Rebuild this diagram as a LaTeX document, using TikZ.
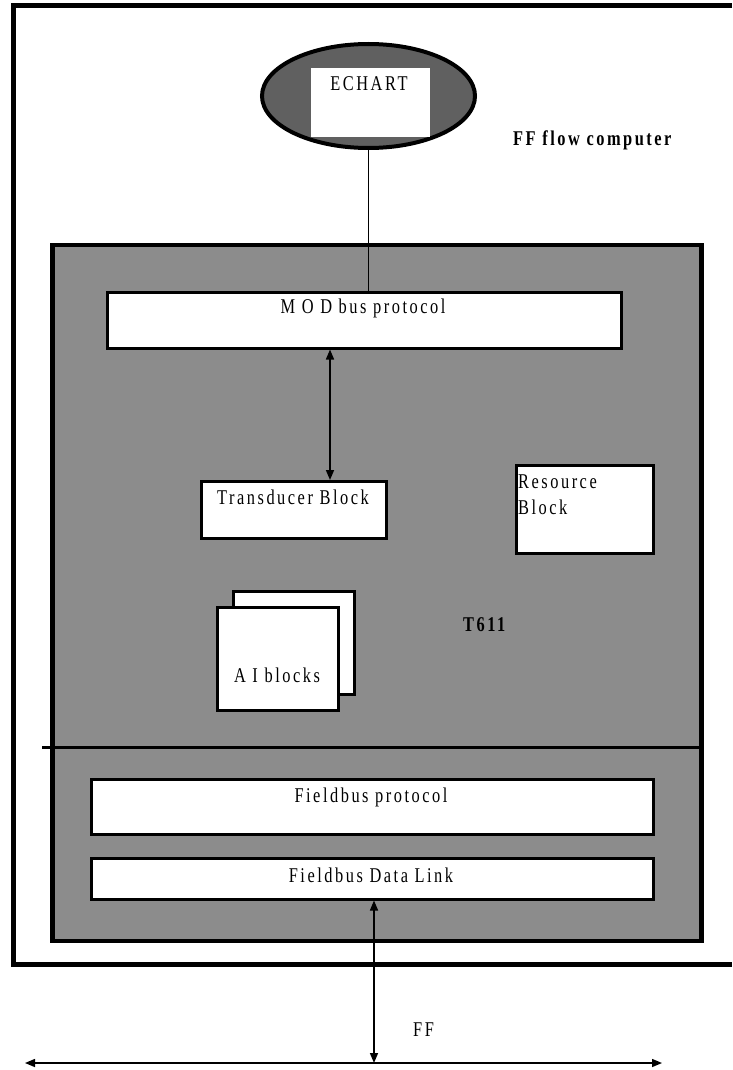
\documentclass[tikz,border=0pt]{standalone}
\usepackage{fontspec}
\setmainfont{Liberation Serif}
\newfontfamily\lab[FakeStretch=0.78,LetterSpace=12]{Liberation Serif}
\usetikzlibrary{shapes.geometric,arrows.meta}
\definecolor{boxgray}{RGB}{140,140,140}
\definecolor{ellgray}{RGB}{96,96,96}
\begin{document}
\begin{tikzpicture}[x=1pt,y=-1pt,
  wbox/.style={draw, fill=white, line width=2.5pt, inner sep=0pt, anchor=north west},
  lbl/.style={font=\lab\fontsize{21}{24}\selectfont, inner sep=0pt},
  blbl/.style={font=\lab\bfseries\fontsize{21}{24}\selectfont, inner sep=0pt},
  biarrow/.style={{Triangle[length=10pt,width=8pt]}-{Triangle[length=10pt,width=8pt]}, line width=1.5pt},
  conn/.style={line width=1.3pt},
]
\useasboundingbox (0,0) rectangle (732,1070);
% outer frame (runs off the right edge)
\draw[line width=5pt] (732,6) -- (13,6) -- (13,964) -- (732,964);
% T611 grey box
\node[draw, fill=boxgray, line width=4.5pt, minimum width=649pt, minimum height=696pt, anchor=north west, inner sep=0pt] (t611box) at (50,242.5) {};
% ECHART ellipse
\node[ellipse, draw, line width=4pt, fill=ellgray, minimum width=213pt, minimum height=104pt, inner sep=0pt] (echart) at (368.5,96) {};
\node[fill=white, minimum width=119pt, minimum height=69pt, inner sep=0pt, anchor=north west] (echartin) at (311,68) {};
\node[lbl] (echarttxt) at (369,84) {ECHART};
\node[blbl, anchor=west] (fftitle) at (513,140) {FF flow computer};
% MODbus
\node[wbox, minimum width=514pt, minimum height=56pt] (modbus) at (106,291) {};
\node[lbl] (modbustxt) at (363,308) {M O D bus protocol};
\draw[conn] (echart.south) -- (echart.south |- modbus.north);
% Transducer
\node[wbox, minimum width=185pt, minimum height=57pt] (trans) at (200,480) {};
\node[lbl] (transtxt) at (293,497) {Transducer Block};
\coordinate (a1) at (330,0);
\draw[biarrow] (modbus.south -| a1) -- (trans.north -| a1);
% Resource
\node[wbox, minimum width=137pt, minimum height=88pt] (res) at (515,464) {};
\node[lbl, anchor=west] (restxt1) at (518,482) {Resource};
\node[lbl, anchor=west] (restxt2) at (518,507) {Block};
% AI blocks
\node[wbox, minimum width=121pt, minimum height=103pt] (aiback) at (232,590) {};
\node[wbox, minimum width=121pt, minimum height=103pt] (aifront) at (216,606) {};
\node[lbl] (aitxt) at (277,675) {A I blocks};
\node[blbl, anchor=west] (t611) at (463,625) {T611};
% separator
\coordinate (sepL) at (42,747);
\coordinate (sepR) at (704,747);
\draw[line width=3pt] (sepL) -- (sepR);
% Fieldbus
\node[wbox, minimum width=562pt, minimum height=55pt] (fbprot) at (90,778) {};
\node[lbl] (fbprottxt) at (371,797) {Fieldbus protocol};
\node[wbox, minimum width=562pt, minimum height=41pt] (fblink) at (90,857) {};
\node[lbl] (fblinktxt) at (371,875) {Fieldbus Data Link};
% FF bus
\coordinate (busL) at (25,1063);
\coordinate (busR) at (662,1063);
\coordinate (ffx) at (374,0);
\draw[biarrow] (busL) -- (busR);
\draw[biarrow] (fblink.south -| ffx) -- (ffx |- busL);
\node[lbl, anchor=west] (fftxt) at (413,1030) {FF};
\end{tikzpicture}
\end{document}
